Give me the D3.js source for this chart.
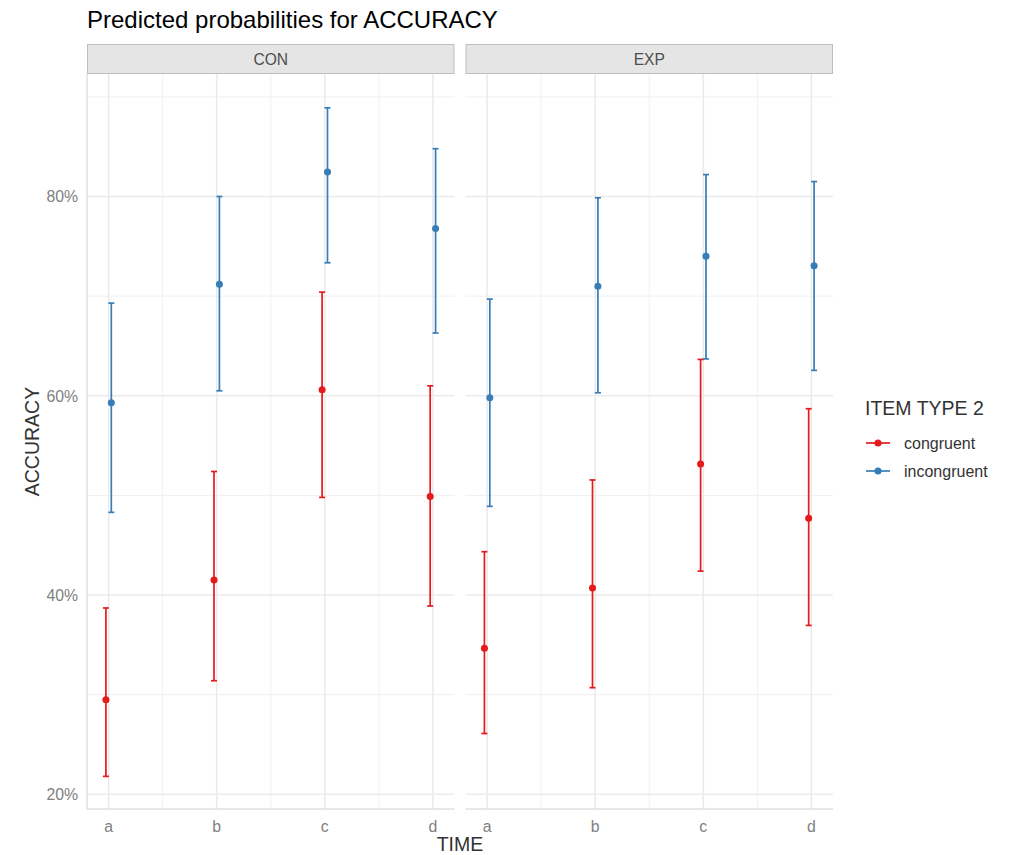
<!DOCTYPE html>
<html>
<head>
<meta charset="utf-8">
<script src="https://cdn.jsdelivr.net/npm/d3@7"></script>
<style>
  body { margin: 0; background: #fff; }
  svg { font-family: "Liberation Sans", Arial, sans-serif; }
</style>
</head>
<body>
<div class="stage"></div>
<script>
var times = ["a", "b", "c", "d"];
var facets = ["CON", "EXP"];
var itemTypes = ["congruent", "incongruent"];
var yTicks = [0.2, 0.4, 0.6, 0.8];
var yMinor = [0.3, 0.5, 0.7, 0.9];

// predicted probability, lower and upper CI, per facet and item type
var conCongruent     = [0.295, 0.415, 0.606, 0.499];
var conCongruentLo   = [0.218, 0.314, 0.498, 0.389];
var conCongruentHi   = [0.387, 0.524, 0.704, 0.610];
var conIncongruent   = [0.593, 0.712, 0.8245, 0.768];
var conIncongruentLo = [0.483, 0.605, 0.7335, 0.663];
var conIncongruentHi = [0.693, 0.800, 0.889, 0.848];
var expCongruent     = [0.3465, 0.407, 0.5315, 0.477];
var expCongruentLo   = [0.261, 0.307, 0.424, 0.3695];
var expCongruentHi   = [0.4435, 0.5155, 0.6365, 0.587];
var expIncongruent   = [0.598, 0.710, 0.740, 0.7305];
var expIncongruentLo = [0.489, 0.603, 0.637, 0.6255];
var expIncongruentHi = [0.697, 0.7987, 0.822, 0.815];

var series = {
  CON: {
    congruent: [conCongruent, conCongruentLo, conCongruentHi],
    incongruent: [conIncongruent, conIncongruentLo, conIncongruentHi]
  },
  EXP: {
    congruent: [expCongruent, expCongruentLo, expCongruentHi],
    incongruent: [expIncongruent, expIncongruentLo, expIncongruentHi]
  }
};

var width = 1009, height = 855;
var panelTop = 74, panelBottom = 809;
var panelW = 367.5, panelGap = 11, left = 87;
var stripH = 30;

var color = d3.scaleOrdinal().domain(itemTypes).range(["#E41A1C", "#377EB8"]);
var dodge = d3.scaleOrdinal().domain(itemTypes).range([-2.7, 2.7]);

var y = d3.scaleLinear().domain([0.2, 0.8]).range([794.3, 196.5]);
var x = d3.scalePoint().domain(times).range([0, panelW]).padding(0.2);

var svg = d3.select(".stage")
  .append("svg")
  .attr("width", width)
  .attr("height", height);

svg.append("text")
  .attr("x", left)
  .attr("y", 28)
  .style("font-size", "24px")
  .style("fill", "#000")
  .text("Predicted probabilities for ACCURACY");

facets.forEach(function(facet, fi){
  var x0 = left + fi * (panelW + panelGap);
  var g = svg.append("g").attr("transform", "translate(" + x0 + ",0)");

  // strip
  g.append("rect")
    .attr("x", 0.5).attr("y", panelTop - stripH + 0.5)
    .attr("width", panelW - 1).attr("height", stripH - 1)
    .style("fill", "#E5E5E5")
    .style("stroke", "#BEBEBE")
    .style("stroke-width", 1);
  g.append("text")
    .attr("x", panelW / 2).attr("y", panelTop - stripH / 2 + 5.5)
    .attr("text-anchor", "middle")
    .style("font-size", "15.6px")
    .style("fill", "#4D4D4D")
    .text(facet);

  // grid
  g.selectAll(".hminor").data(yMinor).enter().append("line")
    .attr("x1", 0).attr("x2", panelW)
    .attr("y1", function(d){ return y(d) }).attr("y2", function(d){ return y(d) })
    .style("stroke", "#F0F0F0").style("stroke-width", 1);
  var mids = times.slice(1).map(function(t, i){ return (x(t) + x(times[i])) / 2 });
  g.selectAll(".vminor").data(mids).enter().append("line")
    .attr("x1", function(d){ return d }).attr("x2", function(d){ return d })
    .attr("y1", panelTop).attr("y2", panelBottom)
    .style("stroke", "#F0F0F0").style("stroke-width", 1);
  g.selectAll(".hmajor").data(yTicks).enter().append("line")
    .attr("x1", 0).attr("x2", panelW)
    .attr("y1", function(d){ return y(d) }).attr("y2", function(d){ return y(d) })
    .style("stroke", "#EBEBEB").style("stroke-width", 1.6);
  g.selectAll(".vmajor").data(times).enter().append("line")
    .attr("x1", function(d){ return x(d) }).attr("x2", function(d){ return x(d) })
    .attr("y1", panelTop).attr("y2", panelBottom)
    .style("stroke", "#EBEBEB").style("stroke-width", 1.6);

  // axis lines
  g.append("line")
    .attr("x1", 0).attr("x2", panelW)
    .attr("y1", panelBottom).attr("y2", panelBottom)
    .style("stroke", "#D0D0D0").style("stroke-width", 1);
  if (fi == 0) {
    g.append("line")
      .attr("x1", 0).attr("x2", 0)
      .attr("y1", panelTop).attr("y2", panelBottom)
      .style("stroke", "#D0D0D0").style("stroke-width", 1);
    g.selectAll(".ytick").data(yTicks).enter().append("text")
      .attr("x", -9).attr("y", function(d){ return y(d) + 5.8 })
      .attr("text-anchor", "end")
      .style("font-size", "15.8px")
      .style("fill", "#808080")
      .text(d3.format(".0%"));
  }

  g.selectAll(".xtick").data(times).enter().append("text")
    .attr("x", function(d){ return x(d) }).attr("y", 832)
    .attr("text-anchor", "middle")
    .style("font-size", "15.8px")
    .style("fill", "#808080")
    .text(function(d){ return d });

  // error bars and points
  itemTypes.forEach(function(type){
    var s = series[facet][type];
    var rows = times.map(function(t, i){
      return { t: t, v: s[0][i], lo: s[1][i], hi: s[2][i] };
    });
    var c = color(type);
    var bars = g.append("g").selectAll("g").data(rows).enter().append("g")
      .attr("transform", function(d){ return "translate(" + (x(d.t) + dodge(type)) + ",0)" });
    bars.append("line")
      .attr("x1", 0).attr("x2", 0)
      .attr("y1", function(d){ return y(d.lo) }).attr("y2", function(d){ return y(d.hi) })
      .style("stroke", c).style("stroke-width", 1.7);
    bars.append("line")
      .attr("x1", -3).attr("x2", 3)
      .attr("y1", function(d){ return y(d.lo) }).attr("y2", function(d){ return y(d.lo) })
      .style("stroke", c).style("stroke-width", 1.7);
    bars.append("line")
      .attr("x1", -3).attr("x2", 3)
      .attr("y1", function(d){ return y(d.hi) }).attr("y2", function(d){ return y(d.hi) })
      .style("stroke", c).style("stroke-width", 1.7);
    bars.append("circle")
      .attr("cx", 0).attr("cy", function(d){ return y(d.v) })
      .attr("r", 3.5)
      .style("fill", c);
  });
});

// axis titles
svg.append("text")
  .attr("x", left + panelW + panelGap / 2).attr("y", 851)
  .attr("text-anchor", "middle")
  .style("font-size", "19.5px")
  .style("fill", "#333")
  .text("TIME");
svg.append("text")
  .attr("transform", "translate(39," + ((panelTop + panelBottom) / 2) + ") rotate(-90)")
  .attr("text-anchor", "middle")
  .style("font-size", "19.5px")
  .style("fill", "#333")
  .text("ACCURACY");

// legend
var legend = svg.append("g").attr("transform", "translate(865,0)");
legend.append("text")
  .attr("x", 0).attr("y", 415)
  .style("font-size", "19.5px")
  .style("fill", "#333")
  .text("ITEM TYPE 2");
var keys = legend.selectAll(".key").data(itemTypes).enter().append("g")
  .attr("transform", function(d, i){ return "translate(0," + (443 + i * 28) + ")" });
keys.append("line")
  .attr("x1", 1).attr("x2", 25).attr("y1", 0).attr("y2", 0)
  .style("stroke", function(d){ return color(d) }).style("stroke-width", 1.7);
keys.append("circle")
  .attr("cx", 13).attr("cy", 0).attr("r", 3.5)
  .style("fill", function(d){ return color(d) });
keys.append("text")
  .attr("x", 39).attr("y", 5.5)
  .style("font-size", "16px")
  .style("fill", "#333")
  .text(function(d){ return d });
</script>
</body>
</html>
